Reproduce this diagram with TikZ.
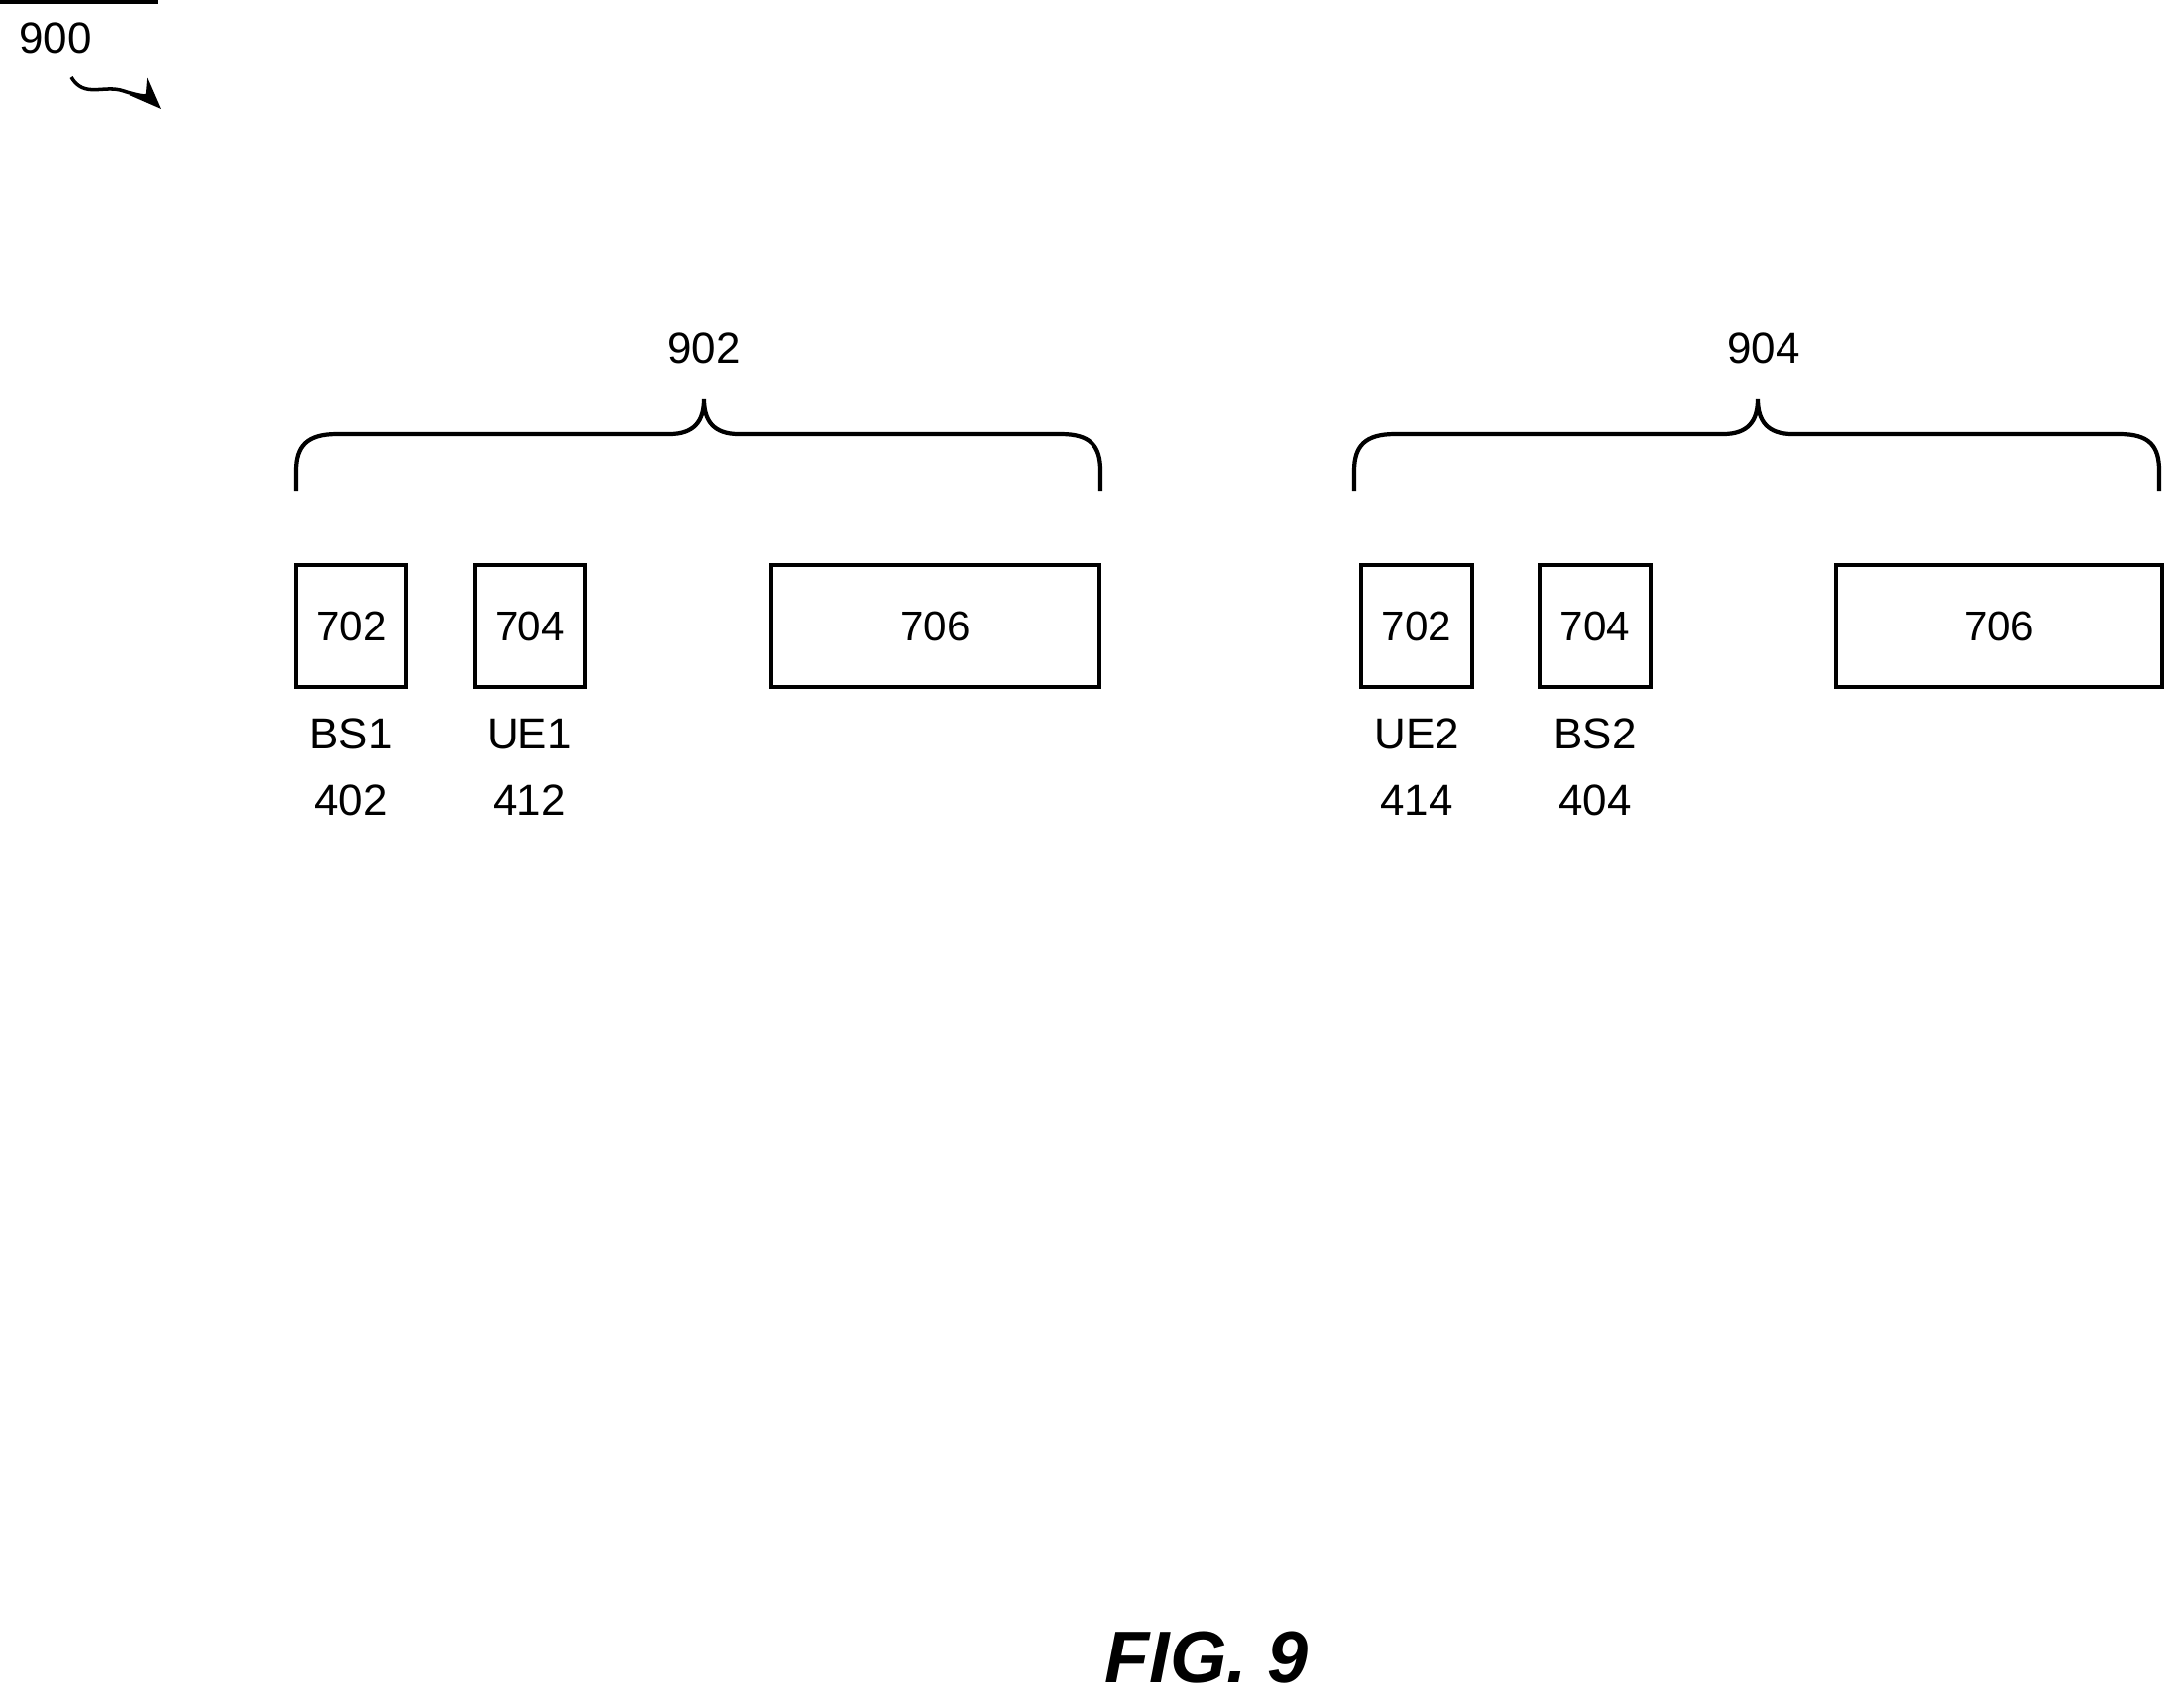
\documentclass[tikz,border=0pt]{standalone}
\usepackage{fontspec}
\setmainfont{Liberation Sans}
\usetikzlibrary{arrows.meta}
\begin{document}
\begin{tikzpicture}[x=0.01cm,y=-0.01cm,
  box/.style={draw,line width=1.2pt,inner sep=0pt,font=\fontsize{12}{14}\selectfont},
  lbl/.style={font=\fontsize{12.5}{15}\selectfont,align=center,inner sep=0pt},
  br/.style={line width=1.2pt}]
\useasboundingbox (0,0) rectangle (2203,1720);
\node[lbl] (n900) at (56,38) {900};
\coordinate (s0) at (72,78);
\coordinate (s1) at (162,110);
\draw[line width=1pt,-{Stealth[length=9pt,width=7pt]}] (s0) .. controls (85,100) and (105,85) .. (125,92) .. controls (140,97) and (150,98) .. (s1);
% brace 902
\draw[br] (299,495) -- (299,475) .. controls (299,450) and (310,438) .. (340,438) -- (675,438) .. controls (700,438) and (710,425) .. (710,403) .. controls (710,425) and (720,438) .. (745,438) -- (1070,438) .. controls (1100,438) and (1110,450) .. (1110,475) -- (1110,495);
\node[lbl] (n902) at (710,351) {902};
% brace 904
\draw[br] (1366,495) -- (1366,475) .. controls (1366,450) and (1377,438) .. (1407,438) -- (1738,438) .. controls (1763,438) and (1773,425) .. (1773,403) .. controls (1773,425) and (1783,438) .. (1808,438) -- (2138,438) .. controls (2168,438) and (2178,450) .. (2178,475) -- (2178,495);
\node[lbl] (n904) at (1779,351) {904};
% boxes left
\node[box,minimum width=111\pgflinewidth,minimum width=3.14cm] at (0,0) {};
\node[box,minimum width=1.11cm,minimum height=1.23cm] (a702) at (354.5,631.5) {702};
\node[box,minimum width=1.11cm,minimum height=1.23cm] (a704) at (534.5,631.5) {704};
\node[box,minimum width=3.31cm,minimum height=1.23cm] (a706) at (943.5,631.5) {706};
\node[box,minimum width=1.12cm,minimum height=1.23cm] (b702) at (1429,631.5) {702};
\node[box,minimum width=1.12cm,minimum height=1.23cm] (b704) at (1609,631.5) {704};
\node[box,minimum width=3.29cm,minimum height=1.23cm] (b706) at (2016.5,631.5) {706};
\node[lbl] (l1) at (354,774) {BS1\\[4pt]402};
\node[lbl] (l2) at (534,774) {UE1\\[4pt]412};
\node[lbl] (l3) at (1429,774) {UE2\\[4pt]414};
\node[lbl] (l4) at (1609,774) {BS2\\[4pt]404};
\node[font=\fontsize{21}{24}\selectfont\bfseries\itshape] (fig) at (1217,1672) {FIG. 9};
\end{tikzpicture}
\end{document}
